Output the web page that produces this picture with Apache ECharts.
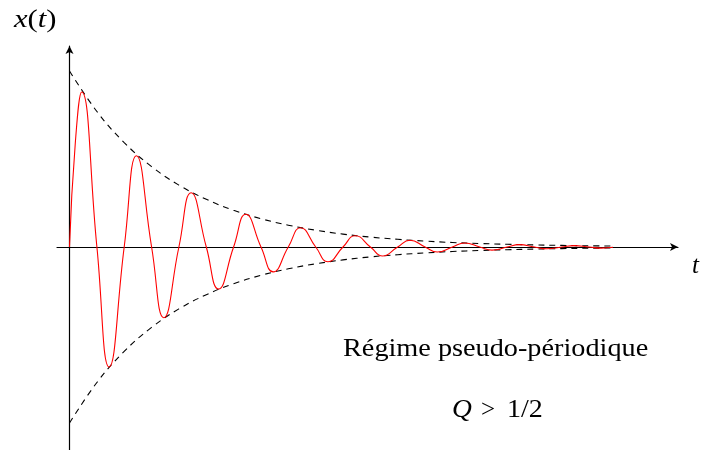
<!DOCTYPE html>
<html>
<head>
<meta charset="utf-8">
<script src="https://cdn.jsdelivr.net/npm/echarts@6/dist/echarts.min.js"></script>
<style>html,body{margin:0;padding:0;background:#fff}#c{width:702px;height:450px}</style>
</head>
<body>
<div id="c"></div>
<script>
// Damped oscillation: peaks, troughs and zero crossings (t, x)
const oscT = [0, 0.58, 1.22, 2.74, 3.96, 5.47, 6.69, 8.21, 9.43, 10.94, 12.16, 13.68, 14.90, 16.41, 17.63, 19.15, 20.37, 21.88, 23.10, 24.62, 25.84, 27.35, 28.57, 30.09, 31.31, 32.82, 34.04, 35.56, 36.78, 38.29, 39.51, 41.03, 42.25, 43.76, 44.98, 46.50, 47.72, 49.23, 50.45, 51.97, 53.19, 54.35];
const oscX = [0, 1.04, 1.55, 0, -1.20, 0, 0.913, 0, -0.707, 0, 0.543, 0, -0.42, 0, 0.327, 0, -0.249, 0, 0.193, 0, -0.147, 0, 0.113, 0, -0.09, 0, 0.067, 0, -0.05, 0, 0.04, 0, -0.031, 0, 0.024, 0, -0.018, 0, 0.014, 0, -0.011, -0.003];
// Envelope
const envT = [0, 2.74, 5.47, 8.21, 10.94, 13.68, 16.41, 19.15, 21.88, 24.62, 27.35, 30.09, 32.82, 35.56, 38.29, 41.03, 43.76, 46.50, 49.23, 51.97, 54.35];
const envUpper = [1.76, 1.355, 1.044, 0.804, 0.619, 0.477, 0.367, 0.283, 0.218, 0.168, 0.129, 0.099, 0.077, 0.059, 0.045, 0.035, 0.027, 0.021, 0.016, 0.012, 0.010];
const envLower = [-1.76, -1.355, -1.044, -0.804, -0.619, -0.477, -0.367, -0.283, -0.218, -0.168, -0.129, -0.099, -0.077, -0.059, -0.045, -0.035, -0.027, -0.021, -0.016, -0.012, -0.010];
const xLabel = 't';
const regimeText = 'Régime pseudo-périodique';
const condQ = 'Q';
const condOp = '>';
const condVal = '1/2';

const zip = (a, b) => a.map((v, i) => [v, b[i]]);
const serif = '"Liberation Serif", "DejaVu Serif", serif';

const chart = echarts.init(document.getElementById('c'), null, {renderer: 'canvas'});
chart.setOption({
  animation: false,
  backgroundColor: '#fff',
  grid: {left: 57, right: 24, top: 46, bottom: 0, containLabel: false},
  xAxis: {
    type: 'value', min: -1.25, max: 60.85,
    axisLine: {onZero: true, symbol: ['none', 'arrow'], symbolSize: [6, 8], lineStyle: {color: '#000', width: 1.2}},
    axisTick: {show: false}, axisLabel: {show: false}, splitLine: {show: false}
  },
  yAxis: {
    type: 'value', min: -2.03, max: 2.01,
    axisLine: {onZero: true, symbol: ['none', 'arrow'], symbolSize: [6, 8], lineStyle: {color: '#000', width: 1.2}},
    axisTick: {show: false}, axisLabel: {show: false}, splitLine: {show: false}
  },
  series: [
    {type: 'line', data: zip(envT, envUpper), smooth: 0.4, showSymbol: false, lineStyle: {color: '#000', width: 1.1, type: [6, 5]}},
    {type: 'line', data: zip(envT, envLower), smooth: 0.4, showSymbol: false, lineStyle: {color: '#000', width: 1.1, type: [6, 5]}},
    {type: 'line', data: zip(oscT, oscX), smooth: 0.5, showSymbol: false, lineStyle: {color: '#ff0000', width: 1.1}}
  ],
  graphic: [
    {type: 'text', x: 14, y: 7, scaleX: 1.18, style: {text: '{i|x}{r|(}{i|t}{r|)}', rich: {
      i: {fontFamily: serif, fontStyle: 'italic', fontSize: 26, fill: '#000'},
      r: {fontFamily: serif, fontSize: 26, fill: '#000'}}}},
    {type: 'text', x: 692, y: 254, style: {text: xLabel, font: 'italic 25px ' + serif, fill: '#000'}},
    {type: 'text', x: 343, y: 337, scaleX: 1.13, style: {text: regimeText, font: '25px ' + serif, fill: '#000'}},
    {type: 'text', x: 452, y: 398, scaleX: 1.1, style: {text: condQ, font: 'italic 25px ' + serif, fill: '#000'}},
    {type: 'text', x: 481, y: 398, style: {text: condOp, font: '25px ' + serif, fill: '#000'}},
    {type: 'text', x: 507, y: 398, scaleX: 1.12, style: {text: condVal, font: '25px ' + serif, fill: '#000'}}
  ]
});
</script>
</body>
</html>
